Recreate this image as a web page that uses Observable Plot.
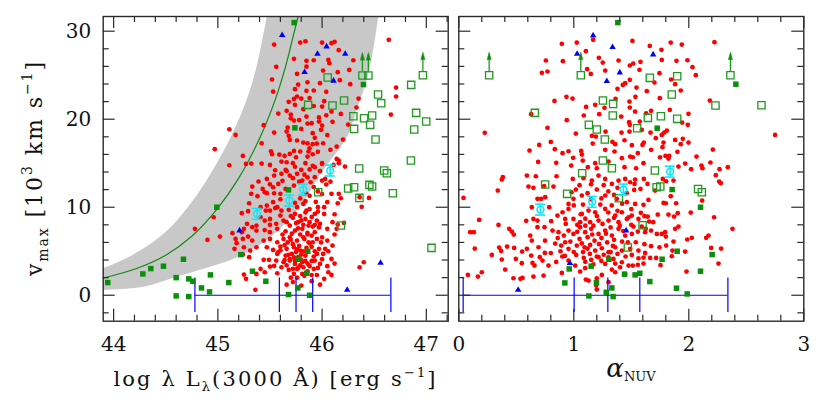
<!DOCTYPE html>
<html><head><meta charset="utf-8">
<script src="https://cdn.jsdelivr.net/npm/d3@7"></script>
<script src="https://cdn.jsdelivr.net/npm/@observablehq/plot@0.6"></script>
<style>
body{margin:0;background:#fff;}
#wrap{position:relative;width:830px;height:408px;overflow:hidden;}
#wrap svg{position:absolute;top:0;}
</style></head><body><div id="wrap"></div>
<script>
// ---------- shared ----------
const yDomain = [-2.95, 31.67];
const yMajorTicks = [0, 10, 20, 30];
const yMinorTicks = [-2,2,4,6,8,12,14,16,18,22,24,26,28];

// ---------- left panel data: log L(3000) vs vmax ----------
const leftXDomain = [43.9, 47.21];
const leftXMajor = [44, 45, 46, 47];
const leftXMinor = [44.2,44.4,44.6,44.8,45.2,45.4,45.6,45.8,46.2,46.4,46.6,46.8,47.2];

const leftRed = [
[45.54,28.48],[45.79,28.71],[45.84,28.86],[45.73,26.86],[45.85,26.63],[45.85,25.98],[45.56,25.95],[45.76,25.15],[45.52,24.51],[45.86,24.2],[45.77,23.94],[45.74,23.41],[45.85,23.22],[45.53,23.14],[45.76,22.58],[45.73,22.31],[45.68,21.97],[45.74,21.63],[45.82,21.14],[45.66,20.95],[45.58,20.64],[45.70,20.53],[45.85,20.3],[45.44,19.32],[45.73,19.85],[45.67,19.05],[45.54,18.48],[45.66,18.6],[45.68,18.11],[45.69,17.65],[45.76,17.58],[45.82,17.35],[45.86,17.27],[45.42,17.27],[45.17,18.22],[45.11,18.86],[44.97,16.59],[45.24,15.83],[45.32,14.96],[45.27,14.92],[45.51,16.36],[45.52,16.02],[45.59,15.98],[45.64,15.83],[45.69,16.06],[45.73,16.4],[45.79,16.33],[45.87,16.33],[45.75,15.68],[45.86,15.76],[45.61,15.19],[45.66,15.11],[45.72,15.0],[45.42,14.96],[45.50,14.81],[45.11,14.77],
[45.80,22.35],[45.84,15.0],[46.0,28.71],[46.09,28.64],[46.12,28.79],[46.64,29.02],[46.16,27.84],[45.92,26.7],[46.06,26.74],[46.07,26.36],[46.30,26.7],[46.01,25.53],[46.15,25.34],[46.26,25.6],[45.98,24.09],[46.17,24.43],[46.27,23.98],[45.92,23.26],[46.04,23.11],[46.71,23.6],[46.71,22.58],[46.35,22.35],[46.02,22.05],[46.0,21.44],[46.33,21.33],[46.09,20.87],[46.04,20.45],[46.66,20.53],[45.9,19.55],[45.97,19.73],[45.99,18.79],[46.0,19.28],[46.25,19.39],[45.91,18.41],[45.91,17.16],[45.95,17.23],[46.01,17.27],[45.93,17.88],[46.2,17.69],[46.14,16.89],[46.08,16.52],[45.91,16.02],[46.14,15.49],[46.16,15.3],[46.0,15.0],[45.91,14.7],[46.11,14.81],
[45.54,13.6],[45.61,13.79],[45.69,13.6],[45.76,13.79],[45.8,14.24],[45.65,14.24],[45.39,12.92],[45.47,13.22],[45.86,13.4],[45.33,12.35],[45.53,12.27],[45.58,12.65],[45.43,12.08],[45.54,11.59],[45.60,11.52],[45.65,12.08],[45.81,13.03],[45.73,12.46],[45.85,11.52],[45.32,11.52],[45.38,11.25],[45.45,11.7],[45.30,10.45],[45.47,10.19],[45.41,10.0],[45.46,9.62],[45.23,9.32],[45.29,9.55],[45.50,9.62],[45.57,10.0],[45.53,10.57],[45.61,9.62],[45.60,9.05],[45.76,10.0],[45.82,10.38],[45.74,9.24],[45.85,9.62],[44.96,8.86],[45.50,8.67],[45.41,8.86],[45.45,8.48],[45.28,8.11],[45.33,7.73],[45.37,7.92],[45.25,7.54],[45.14,7.05],[45.23,7.16],[45.29,6.67],[45.37,7.35],[45.56,8.11],[45.63,8.48],[45.69,7.92],[45.77,8.3],[45.84,8.67],[45.57,7.54],[45.65,7.27],[45.74,7.35],[45.81,7.54],[45.87,7.92],[45.50,7.16],[44.78,7.54],[44.90,6.29],[45.02,6.67],[45.18,5.91],[45.17,6.4],[45.24,6.4],[45.25,5.45],[45.31,5.08],[45.37,5.45],[45.33,6.21],[45.16,5.27],[45.24,4.62],[45.30,4.32],[45.44,6.21],[45.50,6.4],[45.57,6.02],[45.63,6.4],[45.69,6.59],[45.76,6.21],[45.82,6.59],[45.87,6.02],[45.47,5.45],[45.53,5.15],[45.60,5.53],[45.66,5.27],[45.73,5.45],[45.79,5.08],[45.85,5.38],[45.57,4.7],[45.65,4.51],[45.71,4.7],[45.77,4.32],[45.84,4.51],[45.44,4.02],[45.49,4.02],[45.56,3.94],[45.54,3.33],[45.41,2.99],[45.50,3.26],[45.25,2.35],[45.27,1.86],[45.37,2.42],[45.45,2.61],[45.57,2.5],[45.61,3.18],[45.68,2.88],[45.63,3.75],[45.69,3.94],[45.74,3.56],[45.81,3.75],[45.76,2.99],[45.82,3.18],[45.73,2.42],[45.81,2.42],[45.36,0.61],
[45.93,14.55],[46.0,14.92],[45.93,13.41],[46.0,13.03],[45.89,12.84],[46.16,15.0],[46.22,14.62],[46.03,13.22],[46.04,12.58],[46.09,11.52],[46.16,11.52],[46.18,11.02],[46.15,10.45],[46.36,11.14],[46.45,11.06],[46.38,10.04],[46.05,10.57],[46.02,10.0],[46.02,9.24],[45.96,10.0],[45.93,9.24],[45.95,8.48],[45.98,8.11],[46.1,8.3],[46.15,8.03],[46.14,7.54],[46.21,8.22],[46.05,7.54],[45.93,7.16],[45.9,6.78],[45.91,6.02],[46.0,6.59],[46.05,6.21],[46.1,5.64],[45.97,5.27],[46.03,5.27],[45.95,4.7],[46.01,4.7],[46.09,4.13],[45.93,3.94],[45.98,3.56],[45.92,2.99],[46.06,2.61],[46.09,2.31],[46.02,1.86],[46.4,3.75],[46.36,3.18],
[45.62,6.9],[45.67,6.0],[45.72,5.8],[45.78,5.6],[45.83,6.4],[45.88,5.9],[45.75,4.9],[45.8,4.6],[45.86,4.9],[45.9,5.5],[45.69,4.1],[45.74,3.9],[45.79,3.4],[45.84,3.9],[45.88,3.3],[45.71,7.0],[45.77,7.6],[45.82,8.0],[45.86,7.1],[45.91,7.8],[45.66,8.3],[45.72,8.8],[45.79,9.0],[45.84,9.4],[45.9,8.9],[45.6,5.1],[45.64,4.0],[45.58,4.9],[45.7,2.0],[45.76,2.0],[45.86,2.7],[45.92,4.4],[45.95,6.4],[45.97,7.7],[45.68,9.7],[45.74,10.5],[45.6,10.9],[45.55,9.9],[45.5,8.0],[45.45,7.4],
[45.62,13.0],[45.66,14.1],[45.72,13.3],[45.78,12.9],[45.83,13.7],[45.88,14.3],[45.92,12.3],[45.96,11.8],[45.88,11.3],[45.79,11.0],[45.84,10.7],[45.94,10.6],[45.55,14.2],[45.5,12.6],[45.47,11.6],[45.74,14.6],[45.98,14.1],[45.96,16.3],[45.88,16.7],[45.8,18.9],[45.86,19.5],[45.92,21.5],[45.88,22.4],[45.97,20.2],[46.05,18.2],[46.1,19.7],[46.18,20.6],[45.78,19.9],[45.7,20.1],
[45.66,1.2],[45.72,1.5],[45.8,1.1],[45.9,1.6],[45.95,2.3],[45.98,1.2],[46.05,3.3],[46.12,3.6],[45.93,5.0],[45.99,6.0],[45.86,6.9],[45.79,6.9],[45.7,6.3],[45.64,5.7],[45.76,5.2],[45.82,5.0],[45.68,4.6],[45.73,4.3],[45.8,4.0],[45.86,3.6],[45.9,3.9],[45.77,3.1],[45.72,3.0],[45.66,3.4],[45.83,2.2],[45.9,2.3],[45.96,3.1],[46.0,4.1],[46.06,5.0],[46.12,6.9],[45.75,8.2],[45.8,8.5],[45.88,8.3],[45.93,8.0],[45.7,9.0],[45.88,9.8],[45.96,9.5],[46.0,11.5],[46.08,12.9],[46.12,9.2]
];
const leftGreenFilled = [[43.944,1.44],[44.28,2.42],[44.357,3.03],[44.478,3.3],[44.67,4.09],[44.6,2.0],[44.721,1.86],[44.76,1.59],[44.929,2.31],[44.6,-0.08],[44.721,-0.15],[44.843,0.83],[44.92,0.38],[45.105,1.44],[44.99,10.0],[45.22,4.62],[45.332,2.73],[45.46,1.59],[45.678,11.97],[45.732,30.98],[45.739,19.02],[45.678,0.08],[45.767,0.83],[45.777,4.09],[45.853,2.5],[45.863,5.0],[45.88,0.0],[46.397,23.94]];
const leftGreenOpen = [[45.866,21.63],[46.054,24.73],[46.1,21.55],[46.211,22.12],[46.3,20.34],[46.307,18.9],[46.403,20.11],[46.461,19.36],[46.48,20.42],[46.537,22.8],[46.567,21.82],[46.513,17.69],[46.855,23.9],[46.903,20.72],[46.884,18.83],[46.999,19.73],[46.852,15.3],[47.05,5.38],[45.963,11.7],[46.181,7.92],[46.356,14.39],[46.25,12.12],[46.307,12.27],[46.358,11.06],[46.454,12.54],[46.48,12.35],[46.596,14.17],[46.621,13.86],[46.679,11.59],[46.387,24.96],[46.444,24.96],[46.967,25.0]];
const leftLimits = [[46.387,24.96],[46.444,24.96],[46.967,25.0]];
const leftBlue = [[45.617,29.55],[45.956,27.42],[46.043,28.26],[46.222,27.42],[45.832,25.34],[46.11,24.36],[45.208,7.35],[46.561,3.67],[46.241,0.61]];
const leftCyan = [[45.377,9.24],[45.687,10.76],[45.82,12.0],[46.078,14.17]];
const leftBoxX = [44.78, 45.59, 45.75, 45.91, 46.66];
const greenCurve = [[43.85,1.8],[43.9,1.95],[44.2,2.95],[44.5,4.55],[44.75,6.7],[45.0,9.9],[45.2,13.3],[45.4,17.8],[45.55,22.2],[45.65,26.0],[45.72,29.3],[45.77,31.67],[45.8,33.0]];
const bandUpper = [[43.8,2.9],[43.9,3.1],[44.2,4.7],[44.5,7.2],[44.75,10.6],[44.95,14.2],[45.1,17.4],[45.22,20.5],[45.31,23.4],[45.38,26.4],[45.43,29.3],[45.47,31.67],[45.5,33.5]];
const bandLower = [[43.8,0.55],[43.9,0.6],[44.3,1.0],[44.55,1.9],[44.86,3.0],[45.18,4.3],[45.41,5.8],[45.6,7.6],[45.8,10.3],[45.97,13.5],[46.08,15.3],[46.24,18.0],[46.33,21.0],[46.43,24.5],[46.49,27.9],[46.54,31.67],[46.57,33.5]];

// ---------- right panel data: alpha_NUV vs vmax ----------
const rightXDomain = [0, 3];
const rightXMajor = [0, 1, 2, 3];
const rightXMinor = [0.2,0.4,0.6,0.8,1.2,1.4,1.6,1.8,2.2,2.4,2.6,2.8];
const rightRed = [
[0.896,28.56],[1.026,28.71],[1.168,29.02],[1.51,28.9],[1.105,27.73],[0.757,26.67],[0.905,26.59],[1.218,26.97],[1.252,26.44],[1.389,26.67],[1.487,26.1],[1.516,26.33],[0.722,25.27],[0.771,25.42],[1.116,25.68],[1.148,25.15],[1.273,25.53],[1.426,23.9],[1.447,24.09],[1.38,23.45],[1.487,24.47],[0.936,22.54],[0.989,22.35],[0.832,22.08],[1.363,22.31],[1.107,21.4],[1.186,21.63],[1.267,21.29],[1.221,20.57],[1.412,20.3],[1.087,20.42],[0.939,19.89],[0.629,20.57],[0.771,19.02],[1.481,19.66],[1.487,19.36],[1.018,18.37],[1.157,18.11],[1.192,18.03],[1.276,18.6],[1.415,18.48],[0.226,18.45],[0.8,17.42],[0.699,17.08],[1.165,17.23],[1.336,17.42],[1.36,17.16],[1.441,17.61],[1.505,17.05],[0.615,16.44],[0.835,16.59],[0.902,16.14],[0.954,16.36],[1.064,16.4],[1.273,16.52],[1.354,16.33],[1.418,15.57],[1.49,15.76],[0.69,15.15],[0.847,15.04],[0.994,15.61],[1.07,15.98],[1.078,15.3],[1.186,15.0],[1.302,15.19],[1.441,14.55],[0.977,14.73],[1.122,14.55],[1.2,14.43],
[1.661,28.33],[1.843,28.71],[1.939,28.48],[2.223,28.75],[1.762,27.88],[1.765,26.74],[1.893,26.63],[1.988,26.7],[2.032,25.91],[1.58,26.52],[1.571,25.61],[1.745,25.23],[2.061,25.0],[1.846,24.51],[1.881,23.98],[1.701,24.17],[1.545,23.6],[1.635,23.18],[1.93,23.26],[1.748,22.39],[1.536,22.54],[2.183,22.12],[1.835,21.06],[1.672,20.95],[1.629,20.68],[1.997,20.61],[1.533,20.87],[1.942,19.62],[1.991,19.36],[1.574,19.73],[1.809,18.71],[1.786,18.48],[1.765,18.22],[1.667,18.48],[1.591,18.79],[1.881,17.65],[1.948,17.77],[1.997,17.35],[1.93,17.16],[1.713,17.84],[1.609,17.35],[1.597,17.08],[1.672,16.52],[1.78,17.35],[1.771,16.82],[1.901,16.29],[2.209,16.55],[1.557,16.14],[1.513,15.68],[1.797,15.83],[1.829,15.83],[1.823,15.53],[1.75,15.68],[2.067,15.76],[1.606,15.0],[1.542,14.43],[1.91,14.62],[1.968,14.96],[2.11,14.73],[2.119,14.43],[2.188,15.08],[2.267,14.32],[2.339,14.55],[2.02,14.32],[2.75,18.22],[1.487,21.33],[1.484,18.6],[1.484,22.0],
[0.592,13.6],[0.67,13.52],[0.374,13.14],[0.383,13.41],[0.85,13.52],[0.991,13.22],[1.084,13.3],[1.157,13.03],[1.215,13.6],[1.273,13.22],[1.331,12.65],[1.389,13.03],[1.447,13.22],[1.49,12.84],
[0.339,11.89],[0.606,12.35],[0.649,12.2],[0.742,12.39],[0.823,12.35],[1.018,12.01],[1.07,11.33],[0.716,10.95],[0.751,11.14],[0.684,10.95],[0.997,10.95],[0.954,10.38],[1.273,11.33],[1.374,10.95],[1.461,10.57],[0.041,11.06],
[0.635,10.0],[0.786,10.0],[0.858,9.05],[0.902,9.43],[1.07,9.24],[1.128,9.62],[1.186,9.43],[1.273,9.81],[1.36,9.05],[1.418,9.43],[1.476,8.86],[0.177,8.56],[0.345,7.99],[0.586,8.45],[0.649,8.67],[0.684,8.48],[0.803,8.41],[0.925,8.67],[0.997,8.67],[1.055,8.3],[1.142,8.3],[1.215,8.48],[1.302,8.48],[1.389,8.3],[1.461,8.67],[0.954,9.81],
[0.099,7.16],[0.131,7.16],[0.438,7.54],[0.461,7.23],[0.478,6.89],[0.621,6.78],[0.635,6.21],[0.684,7.73],[0.745,7.73],[0.815,7.35],[0.867,7.16],[0.913,6.78],[0.954,7.35],[0.997,6.97],[1.055,7.73],[1.099,7.16],[1.151,7.54],[1.215,6.97],[1.273,7.35],[1.331,6.78],[1.389,7.54],[1.447,6.78],[1.505,6.97],
[0.139,5.3],[0.287,4.58],[0.351,5.42],[0.368,5.04],[0.42,5.53],[0.481,5.38],[0.551,4.96],[0.592,5.27],[0.629,4.51],[0.693,5.45],[0.748,4.81],[0.705,4.32],[0.78,3.37],[0.838,5.87],[0.89,5.64],[0.925,6.02],[0.884,5.0],[0.954,5.27],[1.026,5.64],[1.093,5.45],[1.142,5.72],[1.186,5.08],[1.244,5.34],[1.302,4.89],[1.36,5.45],[1.418,5.08],[1.49,5.27],
[0.374,4.05],[0.496,4.13],[0.548,3.64],[0.641,3.67],[0.728,3.94],[0.847,3.79],[0.922,4.47],[0.954,3.94],[1.021,4.58],[1.087,4.24],[1.151,4.02],[1.215,4.32],[1.273,3.56],[1.345,4.13],[1.418,3.75],[0.403,2.92],[0.658,3.37],[0.649,2.12],[1.012,3.37],[1.055,2.69],[1.099,3.07],[1.244,2.31],[1.331,2.92],[1.403,3.18],[1.476,3.37],
[0.079,2.31],[0.166,2.12],[0.2,2.61],[0.475,1.93],[0.536,1.86],[0.554,1.97],[0.737,2.23],[0.896,2.54],[1.105,1.78],[1.128,1.67],[1.2,1.93],[1.36,2.61],[1.447,2.42],[1.2,0.64],[1.195,1.1],[1.302,1.48],
[1.05,6.4],[1.12,6.6],[1.18,6.2],[1.24,6.5],[1.29,6.0],[1.35,6.3],[1.42,6.1],[1.08,4.9],[1.14,4.7],[1.26,4.6],[1.32,4.9],[1.38,4.7],[1.45,4.4],[1.03,8.0],[1.1,7.9],[1.17,7.9],[1.25,8.1],[1.32,7.7],[1.4,7.9],[1.06,9.2],[1.2,9.0],[1.3,9.4],[1.38,9.6],[1.0,10.2],[1.08,10.3],[1.23,10.3],[1.33,10.2],[1.42,10.4],[0.98,11.7],[1.12,11.6],[1.2,12.0],[1.3,11.8],[1.38,12.2],[1.46,11.6],[1.5,9.8],[1.5,8.0],
[0.9,4.4],[0.97,6.1],[1.03,7.2],[1.1,8.7],[1.16,6.9],[1.22,5.8],[1.28,7.0],[1.35,8.8],[1.43,7.3],[1.47,6.0],[1.1,3.8],[1.17,3.5],[1.24,3.9],[1.3,4.3],[1.36,3.6],[1.0,4.9],[0.93,8.1],[0.86,6.5],[0.8,4.8],[0.75,6.2],[1.15,10.9],[1.24,11.0],[1.35,11.4],[1.05,12.5],[1.15,12.6],[1.26,12.5],[1.12,5.3],[1.2,4.4],[1.07,5.9],[1.34,5.6],
[1.533,13.14],[1.528,12.65],[1.609,13.22],[1.58,12.08],[1.641,12.65],[1.525,11.97],[1.707,11.89],[1.774,13.22],[1.867,13.03],[1.803,12.95],[1.843,11.25],[1.78,10.49],[1.8,10.45],[1.89,10.45],[1.533,10.38],[1.606,10.27],[1.649,10.83],[2.017,9.39],[2.22,8.86],[2.116,10.76],[2.235,13.64],[2.264,12.92],[2.278,12.73],
[1.504,9.05],[1.583,9.36],[1.614,8.98],[1.643,8.94],[1.73,9.17],[1.823,9.17],[1.872,8.94],[1.904,9.32],[1.562,8.67],[1.655,8.37],[1.69,8.3],[1.519,7.8],[1.591,7.8],[1.626,7.54],[1.557,7.23],[1.62,7.16],[1.672,7.35],[1.722,6.97],[1.765,6.97],[1.794,7.16],[1.8,6.67],[1.881,7.54],[1.91,7.8],[1.986,6.33],[2.026,6.52],[2.151,6.52],[2.171,6.78],[2.38,7.54],[1.539,6.02],[1.614,5.8],[1.672,5.57],[1.745,5.45],[1.803,5.64],[1.867,6.1],[1.562,5.08],[1.62,4.81],[1.858,5.08],[1.852,4.43],[1.968,4.96],[2.194,5.38],[2.281,5.3],[1.504,4.58],[1.562,4.2],[1.606,4.28],[1.664,4.24],[1.716,4.24],[1.557,3.45],[1.606,3.6],[1.513,3.37],[1.754,3.41],[1.98,2.69],[2.258,3.6]
];
const rightGreenFilled = [[1.383,30.98],[2.409,23.98],[1.725,18.98],[1.855,12.01],[2.102,10.0],[1.899,5.0],[1.768,4.09],[1.305,4.09],[0.96,2.99],[1.151,3.3],[1.441,2.39],[1.533,2.31],[1.574,2.5],[2.102,2.73],[2.203,4.62],[1.661,1.55],[1.893,0.8],[1.986,0.15],[0.922,1.4],[1.197,1.44],[1.331,0.83],[1.282,0.34],[1.342,-0.15],[1.131,-0.08]];
const rightGreenOpen = [[0.264,25.0],[1.061,25.0],[2.362,25.0],[0.661,20.72],[1.661,24.7],[1.899,24.89],[1.852,22.8],[2.232,21.55],[2.632,21.59],[1.253,22.12],[1.342,21.74],[1.339,20.42],[1.131,19.36],[1.2,18.83],[1.27,17.69],[1.551,18.98],[1.644,20.15],[1.757,20.34],[1.899,20.04],[1.253,15.3],[1.331,14.43],[1.073,13.86],[1.705,14.17],[0.751,12.58],[0.942,11.52],[1.72,12.27],[1.752,12.35],[2.081,12.08],[2.113,11.7],[1.392,11.02],[1.598,7.95],[1.47,5.42]];
const rightLimits = [[0.264,25.0],[1.061,25.0],[2.362,25.0]];
const rightBlue = [[1.168,29.51],[1.337,28.18],[1.029,27.42],[1.69,27.35],[1.4,25.3],[1.287,24.32],[1.455,7.35],[0.966,3.64],[0.516,0.61]];
const rightCyan = [[0.71,9.73],[1.16,10.61],[1.432,12.01],[1.838,14.05]];
const rightBoxX = [0.038, 1.003, 1.296, 1.574, 2.34];

// ---------- layout & style ----------
const H = 408, MT = 16, MB = 87.3;
const FONT = "DejaVu Serif";
const RED = "#ff0000", GREEN = "#0a8f0a", GREEN_OPEN = "#1f9a1f", BLUE = "#0000ff", CYAN = "#12e6f6", FRAME = "#2a2a2a";

function panel(o) {
  const plotW = o.width - o.ml - o.mr, plotH = H - MT - MB;
  const xu = (o.xDomain[1] - o.xDomain[0]) / plotW;
  const yu = (yDomain[1] - yDomain[0]) / plotH;
  const X = d => d[0], Y = d => d[1];
  const majX = 12 * yu, minX = 6 * yu, majY = 12 * xu, minY = 6 * xu;
  const marks = [];
  if (o.band) {
    const poly = o.band.upper.concat(o.band.lower.slice().reverse());
    marks.push(Plot.line(poly, {x: X, y: Y, fill: "#c8c8c8", stroke: "none", curve: "catmull-rom", clip: true}));
  }
  if (o.curve) marks.push(Plot.line(o.curve, {x: X, y: Y, stroke: "#108a10", strokeWidth: 1.2, curve: "catmull-rom", clip: true}));
  marks.push(
    Plot.dot(o.red, {x: X, y: Y, r: 2.35, fill: RED}),
    Plot.ruleY([0], {x1: o.boxX[0], x2: o.boxX[o.boxX.length - 1], stroke: BLUE, strokeWidth: 1.2}),
    Plot.ruleX(o.boxX, {x: d => d, y1: -1.95, y2: 1.95, stroke: BLUE, strokeWidth: 1.2}),
    Plot.dot(o.gFill, {x: X, y: Y, symbol: "square", r: 3.1, fill: GREEN}),
    Plot.dot(o.gOpen, {x: X, y: Y, symbol: "square", r: 4.1, fill: "none", stroke: GREEN_OPEN, strokeWidth: 1.3}),
    Plot.ruleX(o.limits, {x: X, y1: d => d[1] + 0.42, y2: d => d[1] + 1.9, stroke: GREEN_OPEN, strokeWidth: 1.3}),
    Plot.vector(o.limits, {x: X, y: d => d[1] + 1.75, length: 7.5, rotate: 0, anchor: "start", shape: "spike", r: 2, fill: GREEN, stroke: GREEN, strokeWidth: 0.6}),
    Plot.dot(o.blue, {x: X, y: Y, symbol: "triangle", r: 2.4, fill: BLUE}),
    Plot.ruleX(o.cyan, {x: X, y1: d => d[1] - 0.62, y2: d => d[1] + 0.62, stroke: CYAN, strokeWidth: 1.6}),
    Plot.ruleY(o.cyan, {y: d => d[1] - 0.62, x1: d => d[0] - 5 * xu, x2: d => d[0] + 5 * xu, stroke: CYAN, strokeWidth: 1.6}),
    Plot.ruleY(o.cyan, {y: d => d[1] + 0.62, x1: d => d[0] - 5 * xu, x2: d => d[0] + 5 * xu, stroke: CYAN, strokeWidth: 1.6}),
    Plot.dot(o.cyan, {x: X, y: Y, r: 3.4, fill: "none", stroke: CYAN, strokeWidth: 1.6}),
    Plot.ruleX(o.xMajor, {x: d => d, y1: yDomain[0], y2: yDomain[0] + majX, stroke: FRAME, strokeWidth: 1.2}),
    Plot.ruleX(o.xMinor, {x: d => d, y1: yDomain[0], y2: yDomain[0] + minX, stroke: FRAME, strokeWidth: 1.2}),
    Plot.ruleX(o.xMajor, {x: d => d, y1: yDomain[1] - majX, y2: yDomain[1], stroke: FRAME, strokeWidth: 1.2}),
    Plot.ruleX(o.xMinor, {x: d => d, y1: yDomain[1] - minX, y2: yDomain[1], stroke: FRAME, strokeWidth: 1.2}),
    Plot.ruleY(yMajorTicks, {y: d => d, x1: o.xDomain[0], x2: o.xDomain[0] + majY, stroke: FRAME, strokeWidth: 1.2}),
    Plot.ruleY(yMinorTicks, {y: d => d, x1: o.xDomain[0], x2: o.xDomain[0] + minY, stroke: FRAME, strokeWidth: 1.2}),
    Plot.ruleY(yMajorTicks, {y: d => d, x1: o.xDomain[1] - majY, x2: o.xDomain[1], stroke: FRAME, strokeWidth: 1.2}),
    Plot.ruleY(yMinorTicks, {y: d => d, x1: o.xDomain[1] - minY, x2: o.xDomain[1], stroke: FRAME, strokeWidth: 1.2}),
    Plot.frame({stroke: FRAME, strokeWidth: 1.4}),
    Plot.axisX({ticks: o.xMajor, tickSize: 0, tickPadding: 16, label: null, fontSize: 20, tickFormat: d => String(d)})
  );
  if (o.yLabels) marks.push(Plot.axisY({ticks: yMajorTicks, tickSize: 0, tickPadding: 12, label: null, fontSize: 20, tickFormat: d => String(d)}));
  return Plot.plot({
    width: o.width, height: H,
    marginTop: MT, marginBottom: MB, marginLeft: o.ml, marginRight: o.mr,
    x: {domain: o.xDomain, axis: null},
    y: {domain: yDomain, axis: null},
    style: {fontFamily: FONT, fontSize: "20px", color: "#111", background: "transparent"},
    marks
  });
}

const wrap = document.getElementById("wrap");
const svgL = panel({width: 452, ml: 102.7, mr: 4.3, xDomain: leftXDomain, xMajor: leftXMajor, xMinor: leftXMinor,
  red: leftRed, gFill: leftGreenFilled, gOpen: leftGreenOpen, limits: leftLimits, blue: leftBlue, cyan: leftCyan, boxX: leftBoxX,
  band: {upper: bandUpper, lower: bandLower}, curve: greenCurve, yLabels: true});
svgL.style.left = "0px";
wrap.appendChild(svgL);
const svgR = panel({width: 378, ml: 6.3, mr: 26.7, xDomain: rightXDomain, xMajor: rightXMajor, xMinor: rightXMinor,
  red: rightRed, gFill: rightGreenFilled, gOpen: rightGreenOpen, limits: rightLimits, blue: rightBlue, cyan: rightCyan, boxX: rightBoxX,
  yLabels: false});
svgR.style.left = "452px";
wrap.appendChild(svgR);

// ---------- axis titles ----------
const L = d3.select(svgL);
const xt = L.append("text").attr("x", 274.5).attr("y", 386).attr("text-anchor", "middle")
  .attr("font-family", FONT).attr("font-size", 21).attr("fill", "#111")
  .attr("textLength", 322).attr("lengthAdjust", "spacing").style("white-space", "pre");
xt.append("tspan").text("log λ L");
xt.append("tspan").attr("font-size", 13).attr("dy", 5).text("λ");
xt.append("tspan").attr("dy", -5).text("(3000 Å) [erg s");
xt.append("tspan").attr("font-size", 13).attr("dy", -9).text("−1");
xt.append("tspan").attr("dy", 9).text("]");

const yt = L.append("text").attr("transform", "translate(42,169) rotate(-90)").attr("text-anchor", "middle")
  .attr("font-family", FONT).attr("font-size", 22).attr("fill", "#111")
  .attr("textLength", 214).attr("lengthAdjust", "spacing").style("white-space", "pre");
yt.append("tspan").text("v");
yt.append("tspan").attr("font-size", 14).attr("dy", 6).text("max");
yt.append("tspan").attr("dy", -6).text(" [10");
yt.append("tspan").attr("font-size", 14).attr("dy", -10).text("3");
yt.append("tspan").attr("dy", 10).text(" km s");
yt.append("tspan").attr("font-size", 14).attr("dy", -10).text("−1");
yt.append("tspan").attr("dy", 10).text("]");

const R = d3.select(svgR);
const at = R.append("text").attr("x", 179).attr("y", 377).attr("text-anchor", "middle")
  .attr("font-family", FONT).attr("fill", "#111");
at.append("tspan").attr("font-size", 26).attr("font-style", "italic").text("α");
at.append("tspan").attr("font-size", 13).attr("dy", 4).text("NUV");
</script></body></html>
